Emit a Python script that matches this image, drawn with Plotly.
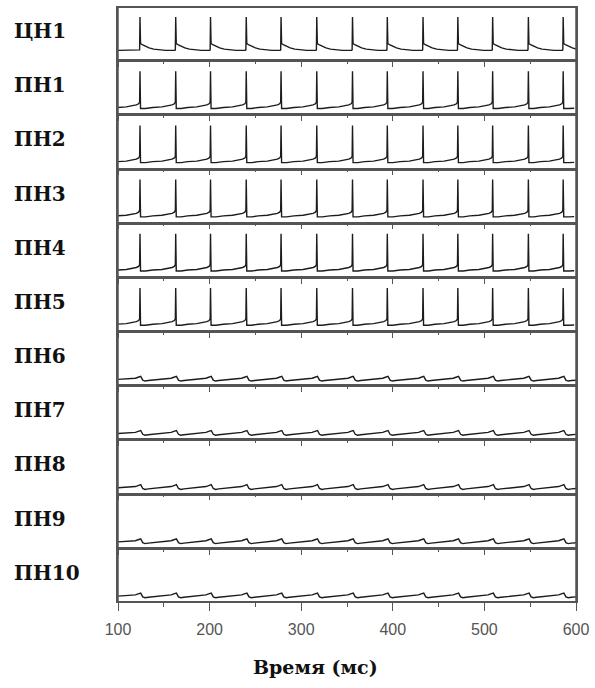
import plotly.graph_objects as go
from plotly.subplots import make_subplots

# Neuron labels, top to bottom
labels = ["ЦН1", "ПН1", "ПН2", "ПН3", "ПН4", "ПН5", "ПН6", "ПН7", "ПН8", "ПН9", "ПН10"]
# Waveform type of each neuron
kinds = ["central", "driven", "driven", "driven", "driven", "driven",
         "weak", "weak", "weak", "weak", "weak"]

# Spike times (ms)
spike_times = [124, 163, 201, 240, 278, 317, 356, 394, 433, 471, 509, 548, 586]

# Membrane potential at the start of the record (mV)
start_v = {"central": -62.0, "driven": -66.5, "weak": -70.0}

# Potential before each spike: (ms relative to spike, mV)
pre_spike = {
    "central": [(-1.0, -62.0), (-0.4, -61.0)],
    "driven": [(-25.0, -68.0), (-15.0, -66.8), (-8.0, -64.8), (-4.0, -62.8),
               (-1.5, -60.5), (-0.4, -57.0)],
    "weak": [(-9.0, -69.0), (-5.0, -67.6), (-2.0, -65.6)],
}
# Peak of each spike: (ms relative to spike, mV)
peak = {"central": (0.0, 6.0), "driven": (0.0, 6.0), "weak": (0.8, -63.8)}
# Potential after each spike: (ms relative to spike, mV)
post_spike = {
    "central": [(0.6, -48.0), (3.0, -51.0), (6.0, -54.0), (10.0, -57.0),
                (15.0, -59.5), (22.0, -61.5), (28.0, -62.0)],
    "driven": [(0.6, -70.0), (6.0, -70.0), (12.0, -69.5)],
    "weak": [(3.0, -71.5), (5.5, -73.4), (9.0, -72.4), (15.0, -71.0), (24.0, -70.2)],
}

x_range = [100, 600]
y_range = [-80, 24.5]
major_ticks = [100, 200, 300, 400, 500, 600]

n = len(labels)
fig = make_subplots(rows=n, cols=1, shared_xaxes=True, vertical_spacing=3 / 595)

for i, (name, kind) in enumerate(zip(labels, kinds)):
    xs, ys = [x_range[0]], [start_v[kind]]
    for s in spike_times:
        for off, v in pre_spike[kind]:
            xs.append(s + off)
            ys.append(v)
        xs.append(s + peak[kind][0])
        ys.append(peak[kind][1])
        for off, v in post_spike[kind]:
            xs.append(s + off)
            ys.append(v)
    fig.add_trace(
        go.Scatter(x=xs, y=ys, mode="lines", name=name, showlegend=False,
                   line=dict(color="#1c1c1c", width=1.4)),
        row=i + 1, col=1,
    )
    last = i == n - 1
    fig.update_xaxes(
        range=x_range, showline=True, mirror=True, linecolor="#555555", linewidth=1.5,
        showgrid=False, zeroline=False, ticks="outside", tickvals=major_ticks,
        ticklen=8 if last else 6, tickwidth=1.3, tickcolor="#555555",
        minor=dict(ticks="outside", dtick=50, tick0=100, ticklen=4 if last else 3,
                   tickwidth=1.3, tickcolor="#555555", showgrid=False),
        showticklabels=last, ticklabelstandoff=5,
        tickfont=dict(family="Liberation Sans, Arial", size=16, color="#555555"),
        row=i + 1, col=1,
    )
    fig.update_yaxes(
        range=y_range, showline=True, mirror=True, linecolor="#555555", linewidth=1.5,
        showgrid=False, zeroline=False, ticks="", showticklabels=False,
        row=i + 1, col=1,
    )
    yref = "y domain" if i == 0 else f"y{i + 1} domain"
    fig.add_annotation(
        text=f"<b>{name}</b>", xref="paper", yref=yref, x=-106 / 460, y=0.55,
        xanchor="left", yanchor="middle", showarrow=False,
        font=dict(family="DejaVu Serif", size=20, color="#111111"),
    )

# Continuous left and right frame edges
for xp in (0, 1):
    fig.add_shape(type="line", xref="paper", yref="paper", x0=xp, x1=xp, y0=0, y1=1,
                  line=dict(color="#555555", width=1.5))

fig.add_annotation(
    text="<b>Время (мс)</b>", xref="paper", yref="paper", x=(316 - 118) / 460,
    y=-66 / 595, xanchor="center", yanchor="middle", showarrow=False,
    font=dict(family="DejaVu Serif", size=19, color="#111111"),
)

fig.update_layout(
    width=595, height=688,
    margin=dict(l=118, r=17, t=6, b=87),
    paper_bgcolor="white", plot_bgcolor="white",
)

fig.write_html("out.html")
